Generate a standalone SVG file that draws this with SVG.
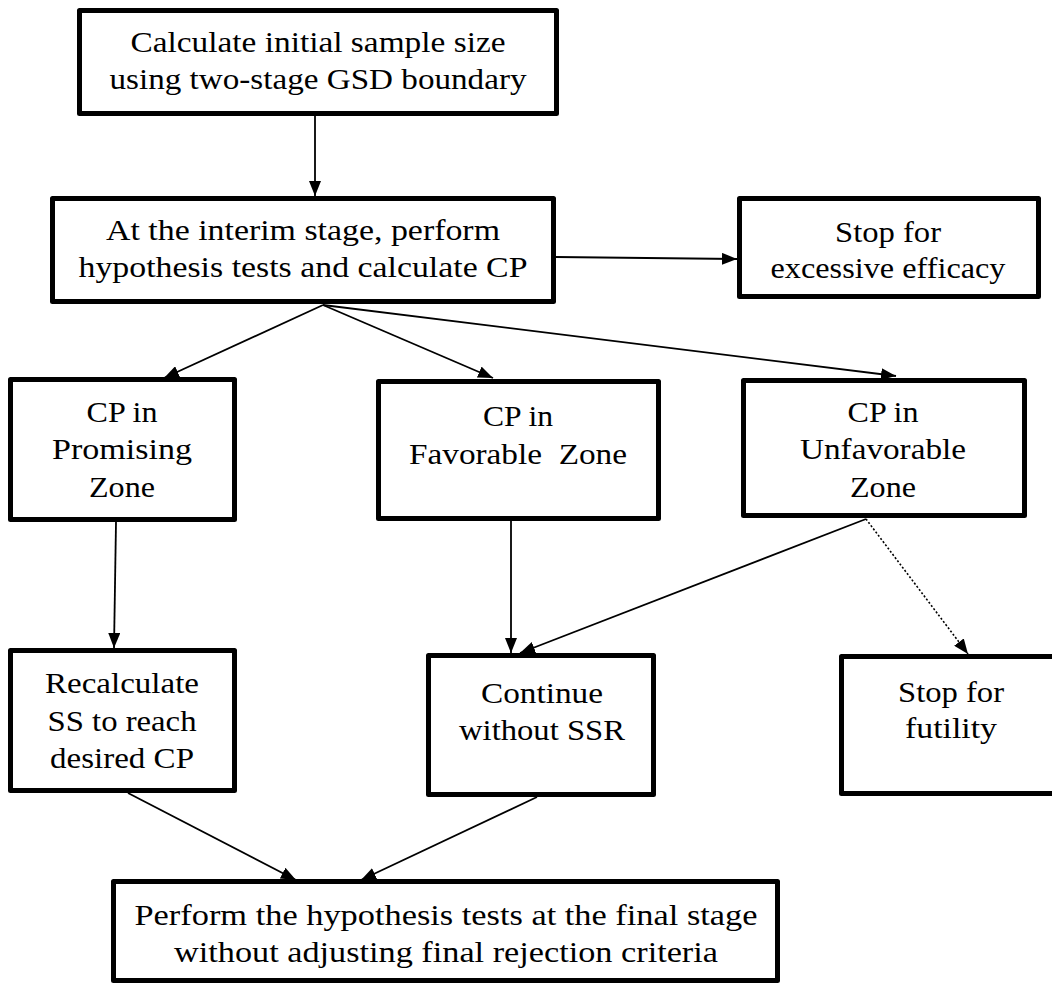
<svg xmlns="http://www.w3.org/2000/svg" width="1052" height="986" viewBox="0 0 1052 986">
<style>
.box{fill:#fff;stroke:#000;stroke-width:5;stroke-linejoin:round}
.t{font-family:"Liberation Serif","DejaVu Serif",serif;font-size:29px;fill:#000;text-anchor:middle}
.c{fill:none;stroke:#000;stroke-width:1.8}
.d{stroke-dasharray:2 2;stroke-width:1.6}
</style>
<defs>
<marker id="ah" markerUnits="userSpaceOnUse" markerWidth="16" markerHeight="12" refX="15" refY="6" orient="auto">
<path d="M0,0 L15,6 L0,12 Z" fill="#000"/>
</marker>
</defs>
<rect width="1052" height="986" fill="#fff"/>
<g id="connectors">
<line class="c" x1="315" y1="115" x2="315" y2="196" marker-end="url(#ah)"/>
<line class="c" x1="556" y1="257" x2="737" y2="259" marker-end="url(#ah)"/>
<line class="c" x1="323" y1="305" x2="164" y2="378" marker-end="url(#ah)"/>
<line class="c" x1="323" y1="305" x2="493" y2="378" marker-end="url(#ah)"/>
<line class="c" x1="323" y1="305" x2="896" y2="376" marker-end="url(#ah)"/>
<line class="c" x1="116" y1="522" x2="114" y2="648" marker-end="url(#ah)"/>
<line class="c" x1="511" y1="521" x2="511" y2="653" marker-end="url(#ah)"/>
<line class="c" x1="866" y1="519" x2="520" y2="653" marker-end="url(#ah)"/>
<line class="c d" x1="866" y1="519" x2="968" y2="654" marker-end="url(#ah)"/>
<line class="c" x1="128" y1="793" x2="296" y2="880" marker-end="url(#ah)"/>
<line class="c" x1="537" y1="797" x2="361" y2="880" marker-end="url(#ah)"/>
</g>
<g id="n1">
<rect class="box" x="79.5" y="10.5" width="477" height="103"/>
<text class="t" x="318" y="52" textLength="375" lengthAdjust="spacingAndGlyphs">Calculate initial sample size</text>
<text class="t" x="318" y="89" textLength="417" lengthAdjust="spacingAndGlyphs">using two-stage GSD boundary</text>
</g>
<g id="n2">
<rect class="box" x="52.5" y="198.5" width="501" height="103"/>
<text class="t" x="303" y="240" textLength="394" lengthAdjust="spacingAndGlyphs">At the interim stage, perform</text>
<text class="t" x="303" y="277" textLength="449" lengthAdjust="spacingAndGlyphs">hypothesis tests and calculate CP</text>
</g>
<g id="n3">
<rect class="box" x="739.5" y="198.5" width="299" height="98"/>
<text class="t" x="888" y="242" textLength="106" lengthAdjust="spacingAndGlyphs">Stop for</text>
<text class="t" x="888" y="278" textLength="235" lengthAdjust="spacingAndGlyphs">excessive efficacy</text>
</g>
<g id="n4">
<rect class="box" x="10.5" y="379.5" width="224" height="140"/>
<text class="t" x="122" y="422" textLength="71" lengthAdjust="spacingAndGlyphs">CP in</text>
<text class="t" x="122" y="459" textLength="140" lengthAdjust="spacingAndGlyphs">Promising</text>
<text class="t" x="122" y="497" textLength="66" lengthAdjust="spacingAndGlyphs">Zone</text>
</g>
<g id="n5">
<rect class="box" x="378.5" y="381.5" width="280" height="137"/>
<text class="t" x="518" y="426" textLength="70" lengthAdjust="spacingAndGlyphs">CP in</text>
<text class="t" x="518" y="464" textLength="218" lengthAdjust="spacingAndGlyphs" xml:space="preserve">Favorable  Zone</text>
</g>
<g id="n6">
<rect class="box" x="743.5" y="380.5" width="281" height="135"/>
<text class="t" x="883" y="422" textLength="71" lengthAdjust="spacingAndGlyphs">CP in</text>
<text class="t" x="883" y="459" textLength="166" lengthAdjust="spacingAndGlyphs">Unfavorable</text>
<text class="t" x="883" y="497" textLength="66" lengthAdjust="spacingAndGlyphs">Zone</text>
</g>
<g id="n7">
<rect class="box" x="10.5" y="650.5" width="224" height="140"/>
<text class="t" x="122" y="693" textLength="154" lengthAdjust="spacingAndGlyphs">Recalculate</text>
<text class="t" x="122" y="731" textLength="149" lengthAdjust="spacingAndGlyphs">SS to reach</text>
<text class="t" x="122" y="768" textLength="144" lengthAdjust="spacingAndGlyphs">desired CP</text>
</g>
<g id="n8">
<rect class="box" x="428.5" y="655.5" width="225" height="139"/>
<text class="t" x="542" y="703" textLength="122" lengthAdjust="spacingAndGlyphs">Continue</text>
<text class="t" x="542" y="740" textLength="166" lengthAdjust="spacingAndGlyphs">without SSR</text>
</g>
<g id="n9">
<rect class="box" x="841.5" y="656.5" width="230" height="137"/>
<text class="t" x="951" y="702" textLength="106" lengthAdjust="spacingAndGlyphs">Stop for</text>
<text class="t" x="951" y="738" textLength="92" lengthAdjust="spacingAndGlyphs">futility</text>
</g>
<g id="n10">
<rect class="box" x="113.5" y="881.5" width="664" height="99"/>
<text class="t" x="446" y="925" textLength="623" lengthAdjust="spacingAndGlyphs">Perform the hypothesis tests at the final stage</text>
<text class="t" x="446" y="962" textLength="544" lengthAdjust="spacingAndGlyphs">without adjusting final rejection criteria</text>
</g>
</svg>
